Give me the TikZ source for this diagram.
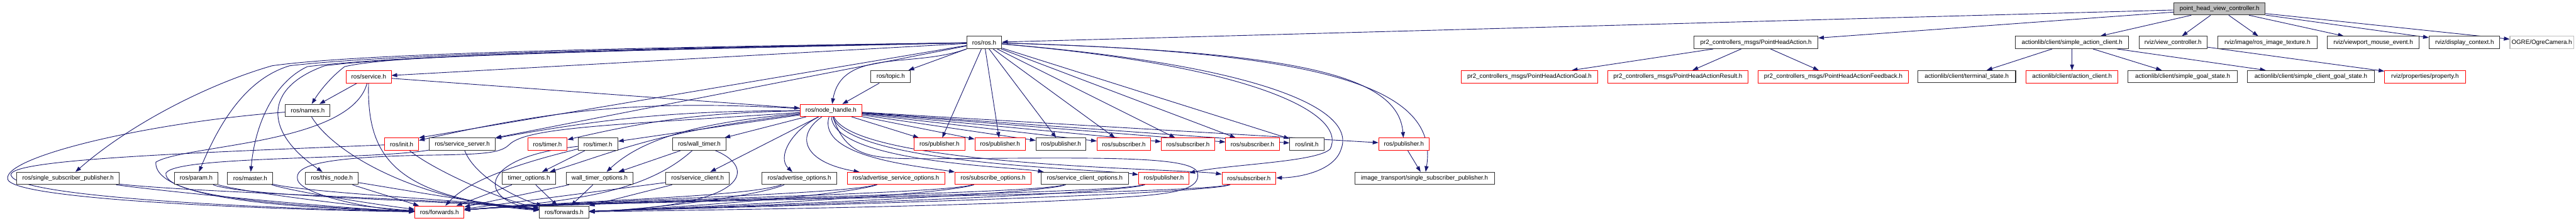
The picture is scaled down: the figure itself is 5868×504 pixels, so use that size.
\documentclass[tikz,border=0pt]{standalone}
\usepackage{fontspec}
\setmainfont{Liberation Sans}
\usetikzlibrary{arrows.meta,backgrounds}
\definecolor{EdgeNavy}{HTML}{191970}
\definecolor{TruncRed}{HTML}{FF0000}
\definecolor{RootGray}{HTML}{BFBFBF}
\tikzset{
  hdr/.style={draw=black!80, line width=0.75pt, fill=white, inner sep=0pt,
    minimum height=14pt, font=\fontsize{7pt}{8pt}\selectfont},
  hdrtrunc/.style={hdr, draw=TruncRed, line width=0.6pt},
  hdrroot/.style={hdr, fill=RootGray},
  hdrext/.style={hdr, draw=RootGray},
  dep/.style={draw=EdgeNavy, line width=0.65pt, -{Triangle[length=6.5pt,width=4.5pt]}}
}

\begin{document}
\begin{tikzpicture}[x=0.5pt, y=-0.5pt]
\useasboundingbox (0,0) rectangle (5868,504);

\node[hdrroot, minimum width=104pt] (phvc) at (5056,20) {point\_head\_view\_controller.h};

\node[hdr, minimum width=40pt] (rosh) at (2242,97) {ros/ros.h};
\node[hdr, minimum width=141pt] (pha) at (4000,97) {pr2\_controllers\_msgs/PointHeadAction.h};
\node[hdr, minimum width=129pt] (sac) at (4720,97) {actionlib/client/simple\_action\_client.h};
\node[hdr, minimum width=77.5pt] (vc) at (4950,97) {rviz/view\_controller.h};
\node[hdr, minimum width=113.5pt] (rit) at (5165,97) {rviz/image/ros\_image\_texture.h};
\node[hdr, minimum width=105pt] (vme) at (5406,97) {rviz/viewport\_mouse\_event.h};
\node[hdr, minimum width=80.5pt] (dc) at (5614,97) {rviz/display\_context.h};
\node[hdrext, minimum width=72.5pt] (ogre) at (5790,97) {OGRE/OgreCamera.h};

\node[hdrtrunc, minimum width=51pt] (svc) at (840,175) {ros/service.h};
\node[hdr, minimum width=45pt] (topic) at (2029,175) {ros/topic.h};
\node[hdrtrunc, minimum width=155.5pt] (goal) at (3484,175) {pr2\_controllers\_msgs/PointHeadActionGoal.h};
\node[hdrtrunc, minimum width=159.5pt] (result) at (3822,175) {pr2\_controllers\_msgs/PointHeadActionResult.h};
\node[hdrtrunc, minimum width=171pt] (feedback) at (4176,175) {pr2\_controllers\_msgs/PointHeadActionFeedback.h};
\node[hdr, minimum width=111.5pt] (term) at (4480,175) {actionlib/client/terminal\_state.h};
\node[hdrtrunc, minimum width=104.5pt] (ac) at (4720,175) {actionlib/client/action\_client.h};
\node[hdr, minimum width=124.5pt] (sgs) at (4972,175) {actionlib/client/simple\_goal\_state.h};
\node[hdr, minimum width=145pt] (scgs) at (5264,175) {actionlib/client/simple\_client\_goal\_state.h};
\node[hdrtrunc, minimum width=92pt] (prop) at (5524,175) {rviz/properties/property.h};

\node[hdr, minimum width=51pt] (names) at (701,252) {ros/names.h};
\node[hdrtrunc, minimum width=70pt] (nh) at (1893,252) {ros/node\_handle.h};

\node[hdrtrunc, minimum width=38.5pt] (initr) at (915,329) {ros/init.h};
\node[hdr, minimum width=75pt] (ssrv) at (1053,329) {ros/service\_server.h};
\node[hdrtrunc, minimum width=45pt] (timerr) at (1247,329) {ros/timer.h};
\node[hdr, minimum width=45pt] (timerb) at (1362,329) {ros/timer.h};
\node[hdr, minimum width=61pt] (wtimer) at (1593,329) {ros/wall\_timer.h};
\node[hdrtrunc, minimum width=57.5pt] (pub1) at (2140,329) {ros/publisher.h};
\node[hdrtrunc, minimum width=57.5pt] (pub2) at (2278,329) {ros/publisher.h};
\node[hdr, minimum width=57pt] (pub3) at (2417,329) {ros/publisher.h};
\node[hdrtrunc, minimum width=61pt] (sub1) at (2560,329) {ros/subscriber.h};
\node[hdrtrunc, minimum width=60.5pt] (sub2) at (2706,329) {ros/subscriber.h};
\node[hdrtrunc, minimum width=61pt] (sub3) at (2853,329) {ros/subscriber.h};
\node[hdr, minimum width=39pt] (initb) at (2977,329) {ros/init.h};
\node[hdrtrunc, minimum width=57.5pt] (pub4) at (3198,329) {ros/publisher.h};

\node[hdr, minimum width=116.5pt] (ssp) at (155,407) {ros/single\_subscriber\_publisher.h};
\node[hdr, minimum width=50pt] (param) at (447,407) {ros/param.h};
\node[hdr, minimum width=51.5pt] (master) at (570,407) {ros/master.h};
\node[hdr, minimum width=60pt] (thisnode) at (756,407) {ros/this\_node.h};
\node[hdr, minimum width=61pt] (topt) at (1205,407) {timer\_options.h};
\node[hdr, minimum width=75.5pt] (wtopt) at (1366,407) {wall\_timer\_options.h};
\node[hdr, minimum width=72pt] (sclient) at (1589,407) {ros/service\_client.h};
\node[hdr, minimum width=85pt] (adv) at (1821,407) {ros/advertise\_options.h};
\node[hdrtrunc, minimum width=111pt] (advsvc) at (2041,407) {ros/advertise\_service\_options.h};
\node[hdrtrunc, minimum width=86.5pt] (subopt) at (2262,407) {ros/subscribe\_options.h};
\node[hdr, minimum width=99.5pt] (scopt) at (2471,407) {ros/service\_client\_options.h};
\node[hdrtrunc, minimum width=57.5pt] (pub5) at (2651,407) {ros/publisher.h};
\node[hdrtrunc, minimum width=61.5pt] (sub4) at (2845,407) {ros/subscriber.h};
\node[hdr, minimum width=159pt] (itssp) at (3245,407) {image\_transport/single\_subscriber\_publisher.h};

\node[hdrtrunc, minimum width=56pt] (fwdr) at (1001,484) {ros/forwards.h};
\node[hdr, minimum width=56pt] (fwdb) at (1285,484) {ros/forwards.h};

\begin{scope}[on background layer]
\draw[dep] (phvc) -- (rosh);
\draw[dep] (phvc) -- (pha);
\draw[dep] (phvc) -- (sac);
\draw[dep] (phvc) -- (vc);
\draw[dep] (phvc) -- (rit);
\draw[dep] (phvc) -- (vme);
\draw[dep] (phvc) -- (dc);
\draw[dep] (phvc) -- (ogre);
\draw[dep] (pha) -- (goal);
\draw[dep] (pha) -- (result);
\draw[dep] (pha) -- (feedback);
\draw[dep] (sac) -- (term);
\draw[dep] (sac) -- (ac);
\draw[dep] (sac) -- (sgs);
\draw[dep] (sac) -- (scgs);
\draw[dep] (vc) -- (prop);

\draw[dep] (rosh) -- (topic);
\draw[dep] (topic) -- (nh);
\draw[dep] (rosh) to[out=200,in=80] (nh);
\draw[dep] (rosh) -- (svc);
\draw[dep] (rosh) -- (initr.north east);
\draw[dep] (rosh) -- (ssrv);
\draw[dep] (rosh) .. controls (1300,118) and (900,125) .. (785,152) .. controls (755,175) and (730,205) .. (names);
\draw[dep] (rosh) .. controls (1300,112) and (850,128) .. (660,150) .. controls (560,180) and (500,280) .. (param);
\draw[dep] (rosh) .. controls (1300,114) and (880,130) .. (700,152) .. controls (620,190) and (580,290) .. (master);
\draw[dep] (rosh) .. controls (1300,116) and (900,130) .. (740,150) .. controls (600,200) and (600,300) .. (thisnode);
\draw[dep] (rosh) .. controls (1300,110) and (800,125) .. (620,150) .. controls (480,190) and (300,280) .. (ssp);
\draw[dep] (rosh) -- (pub1);
\draw[dep] (rosh) -- (pub2);
\draw[dep] (rosh) -- (pub3);
\draw[dep] (rosh) -- (sub1);
\draw[dep] (rosh) -- (sub2);
\draw[dep] (rosh) -- (sub3);
\draw[dep] (rosh) -- (initb);
\draw[dep] (rosh) .. controls (2950,118) and (3185,170) .. (pub4);
\draw[dep] (rosh) .. controls (3020,118) and (3280,200) .. (itssp);
\draw[dep] (rosh) .. controls (2860,150) and (3070,260) .. (3030,340) .. controls (3000,370) and (2800,375) .. (pub5);
\draw[dep] (rosh) .. controls (2880,150) and (3090,250) .. (3055,340) .. controls (3040,390) and (2960,405) .. (sub4);
\draw[dep] (pub4) -- (itssp);

\draw[dep] (svc) -- (nh);
\draw[dep] (svc) -- (names);
\draw[dep] (svc) .. controls (800,330) and (420,330) .. (355,370) .. controls (350,460) and (700,475) .. (fwdr);
\draw[dep] (svc) .. controls (835,360) and (900,450) .. (fwdb);
\draw[dep] (names) .. controls (330,280) and (0,360) .. (18,410) .. controls (40,460) and (700,480) .. (fwdr);
\draw[dep] (names) .. controls (760,350) and (950,460) .. (fwdb);
\draw[dep] (initr) .. controls (400,350) and (15,365) .. (25,400) .. controls (40,455) and (700,478) .. (fwdr);
\draw[dep] (initr) .. controls (990,390) and (1150,460) .. (fwdb);
\draw[dep] (ssrv) .. controls (850,365) and (400,355) .. (378,395) .. controls (370,455) and (750,475) .. (fwdr);
\draw[dep] (ssrv) .. controls (1080,400) and (1170,450) .. (fwdb);
\draw[dep] (timerb) -- (topt);
\draw[dep] (timerb) .. controls (1150,380) and (1060,420) .. (fwdr);
\draw[dep] (timerb) .. controls (1080,360) and (1090,460) .. (fwdb);
\draw[dep] (wtimer) -- (wtopt);
\draw[dep] (wtimer) .. controls (1470,440) and (1300,460) .. (fwdr);
\draw[dep] (wtimer) .. controls (1720,380) and (1720,470) .. (fwdb);

\draw[dep] (nh) -- (pub1);
\draw[dep] (nh) -- (pub2);
\draw[dep] (nh) -- (pub3);
\draw[dep] (nh) -- (sub1);
\draw[dep] (nh) -- (sub2);
\draw[dep] (nh) -- (sub3);
\draw[dep] (nh) -- (initb);
\draw[dep] (nh) -- (pub4);
\draw[dep] (nh) to[bend right=8] (initr);
\draw[dep] (nh) to[bend right=5] (ssrv);
\draw[dep] (nh) to[bend right=6] (timerr);
\draw[dep] (nh) -- (timerb);
\draw[dep] (nh) -- (wtimer);
\draw[dep] (nh) .. controls (1500,300) and (1420,340) .. (topt);
\draw[dep] (nh) .. controls (1650,275) and (1480,300) .. (wtopt);
\draw[dep] (nh) -- (sclient);
\draw[dep] (nh) .. controls (1800,300) and (1770,360) .. (adv);
\draw[dep] (nh) .. controls (1810,310) and (1830,370) .. (advsvc);
\draw[dep] (nh) .. controls (1860,360) and (2100,380) .. (subopt);
\draw[dep] (nh) .. controls (1900,370) and (2300,380) .. (scopt);
\draw[dep] (nh) .. controls (1930,375) and (2500,385) .. (pub5);
\draw[dep] (nh) .. controls (1950,380) and (2700,385) .. (sub4);
\draw[dep] (nh) .. controls (1400,285) and (1200,290) .. (1160,330) .. controls (1140,350) and (1100,352) .. (980,354) .. controls (720,358) and (670,380) .. (678,410) .. controls (685,445) and (850,478) .. (fwdr);
\draw[dep] (nh) .. controls (1930,370) and (2000,362) .. (2150,362) .. controls (2500,360) and (2720,355) .. (2728,395) .. controls (2735,430) and (2680,440) .. (2600,447) .. controls (2300,470) and (1700,478) .. (fwdb);

\draw[dep] (ssp) .. controls (400,440) and (800,478) .. (fwdr);
\draw[dep] (ssp) .. controls (450,440) and (1050,455) .. (fwdb);
\draw[dep] (param) .. controls (560,440) and (850,475) .. (fwdr);
\draw[dep] (param) .. controls (560,450) and (1050,458) .. (fwdb);
\draw[dep] (master) .. controls (680,440) and (880,470) .. (fwdr);
\draw[dep] (master) .. controls (700,440) and (1080,458) .. (fwdb);
\draw[dep] (thisnode) -- (fwdr);
\draw[dep] (thisnode) .. controls (900,430) and (1100,465) .. (fwdb);
\draw[dep] (topt) -- (fwdr);
\draw[dep] (topt) -- (fwdb);
\draw[dep] (wtopt) -- (fwdr);
\draw[dep] (wtopt) -- (fwdb);
\draw[dep] (sclient) -- (fwdr);
\draw[dep] (sclient) -- (fwdb);
\draw[dep] (adv) .. controls (1700,450) and (1300,458) .. (fwdr);
\draw[dep] (adv) .. controls (1720,450) and (1450,480) .. (fwdb);
\draw[dep] (advsvc) .. controls (1920,445) and (1300,458) .. (fwdr);
\draw[dep] (advsvc) .. controls (1920,448) and (1480,478) .. (fwdb);
\draw[dep] (subopt) .. controls (2140,445) and (1300,458) .. (fwdr);
\draw[dep] (subopt) .. controls (2140,448) and (1480,478) .. (fwdb);
\draw[dep] (scopt) .. controls (2350,445) and (1300,458) .. (fwdr);
\draw[dep] (scopt) .. controls (2350,448) and (1480,478) .. (fwdb);
\draw[dep] (pub5) .. controls (2530,445) and (1300,458) .. (fwdr);
\draw[dep] (pub5) .. controls (2530,448) and (1480,478) .. (fwdb);
\draw[dep] (sub4) .. controls (2725,445) and (1300,458) .. (fwdr);
\draw[dep] (sub4) .. controls (2725,448) and (1480,478) .. (fwdb);
\end{scope}
\end{tikzpicture}
\end{document}
